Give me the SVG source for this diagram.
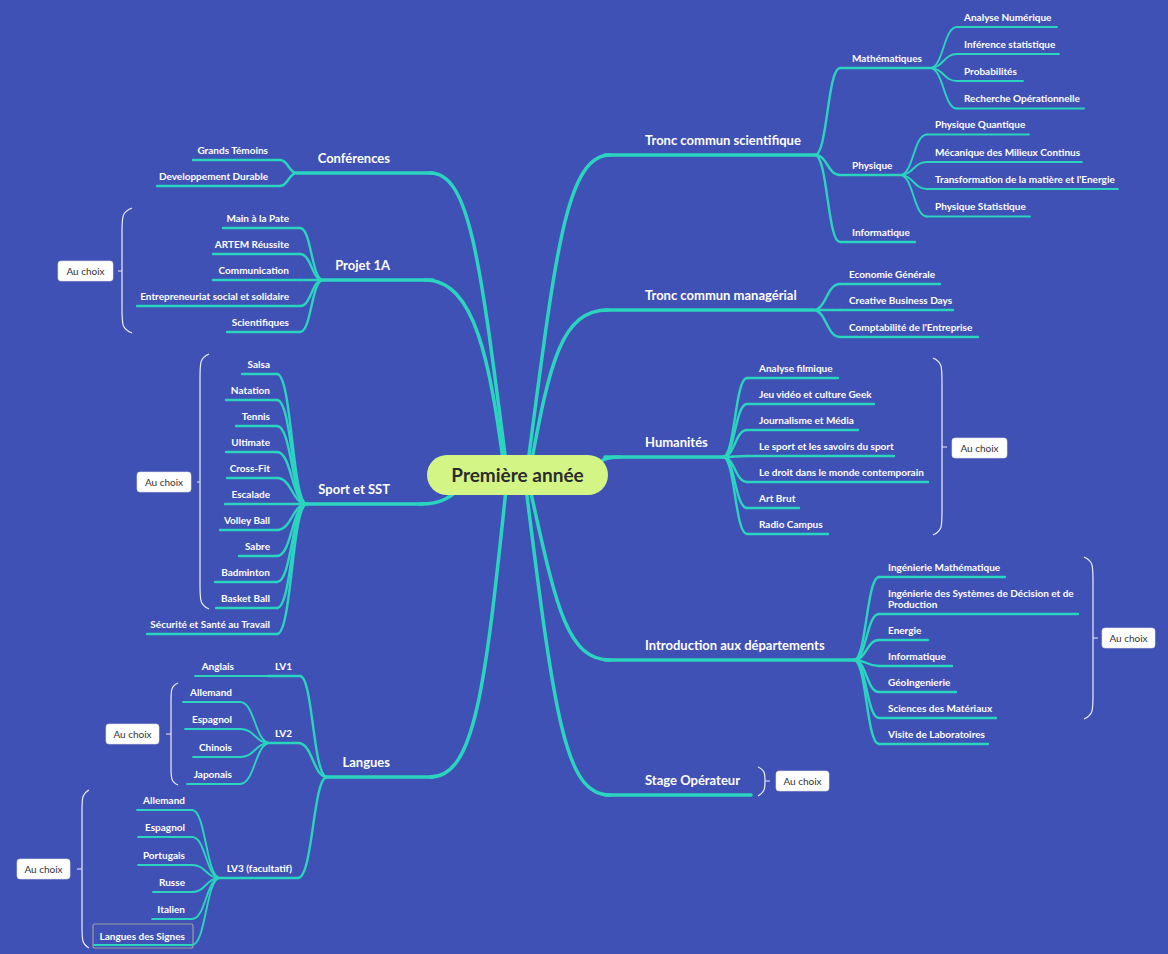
<svg xmlns="http://www.w3.org/2000/svg" width="1168" height="954" viewBox="0 0 1168 954">
<style>
.main{stroke:#2BD4BF;stroke-width:3.5;fill:none;stroke-linecap:round}
.sub{stroke:#2BD4BF;stroke-width:2.4;fill:none;stroke-linecap:round}
.leaf{stroke:#2BD4BF;stroke-width:1.9;fill:none;stroke-linecap:round}
.t1{font-family:Lato,"Liberation Sans",sans-serif;font-weight:bold;font-size:13px;fill:#ffffff}
.t2{font-family:Lato,"Liberation Sans",sans-serif;font-weight:bold;font-size:10px;fill:#ffffff}
.e{text-anchor:end}
.brace{stroke:#ffffff;stroke-width:1.2;fill:none;opacity:0.9}
.box{fill:#ffffff;stroke:#e0e0e0;stroke-width:0.6}
.bt{font-family:Lato,"Liberation Sans",sans-serif;font-size:10px;fill:#333333;text-anchor:middle}
</style>
<rect x="0" y="0" width="1168" height="954" fill="#3F51B5"/>
<g id="connectors">
<!-- main branches -->
<path class="main" d="M527 470 C555 260,565 155,610 155"/>
<path class="main" d="M530 470 C550 360,562 310,608 310"/>
<path class="main" d="M590 472 C600 460,605 457,620 457"/>
<path class="main" d="M528 480 C555 600,565 660,610 660"/>
<path class="main" d="M525 480 C555 720,565 795,610 795"/>
<path class="main" d="M507 470 C480 260,470 173,430 173"/>
<path class="main" d="M505 475 C490 360,475 280,425 280"/>
<path class="main" d="M470 478 C450 500,440 504,420 504"/>
<path class="main" d="M507 480 C485 690,475 777,430 777"/>
<!-- Tronc scientifique -->
<path class="sub" d="M815 155 C827.5 155,827.5 68,840 68"/>
<path class="sub" d="M815 155 C827.5 155,827.5 175,840 175"/>
<path class="sub" d="M815 155 C827.5 155,827.5 242,840 242"/>
<path class="leaf" d="M930 68 C943.5 68,943.5 27,957 27"/>
<path class="leaf" d="M930 68 C943.5 68,943.5 54,957 54"/>
<path class="leaf" d="M930 68 C943.5 68,943.5 81,957 81"/>
<path class="leaf" d="M930 68 C943.5 68,943.5 108.5,957 108.5"/>
<path class="leaf" d="M900 175 C913.5 175,913.5 134.5,927 134.5"/>
<path class="leaf" d="M900 175 C913.5 175,913.5 162,927 162"/>
<path class="leaf" d="M900 175 C913.5 175,913.5 189,927 189"/>
<path class="leaf" d="M900 175 C913.5 175,913.5 216.5,927 216.5"/>
<!-- managerial -->
<path class="sub" d="M813 310 C826.5 310,826.5 284,840 284"/>
<path class="sub" d="M813 310 L840 310"/>
<path class="sub" d="M813 310 C826.5 310,826.5 337,840 337"/>
<!-- Humanites -->
<path class="sub" d="M723 457 C735 457,735 378,747 378"/>
<path class="sub" d="M723 457 C735 457,735 404,747 404"/>
<path class="sub" d="M723 457 C735 457,735 430,747 430"/>
<path class="sub" d="M723 457 C735 457,735 456,747 456"/>
<path class="sub" d="M723 457 C735 457,735 482,747 482"/>
<path class="sub" d="M723 457 C735 457,735 508,747 508"/>
<path class="sub" d="M723 457 C735 457,735 534,747 534"/>
<!-- Introduction -->
<path class="sub" d="M854 660 C866.5 660,866.5 577,879 577"/>
<path class="sub" d="M854 660 C866.5 660,866.5 614,879 614"/>
<path class="sub" d="M854 660 C866.5 660,866.5 640,879 640"/>
<path class="sub" d="M854 660 C866.5 660,866.5 666,879 666"/>
<path class="sub" d="M854 660 C866.5 660,866.5 692,879 692"/>
<path class="sub" d="M854 660 C866.5 660,866.5 718,879 718"/>
<path class="sub" d="M854 660 C866.5 660,866.5 744,879 744"/>
<!-- Conferences -->
<path class="sub" d="M297 173 C288.5 173,288.5 160,280 160"/>
<path class="sub" d="M297 173 C288.5 173,288.5 186,280 186"/>
<!-- Projet 1A -->
<path class="sub" d="M323 280 C311.5 280,311.5 228,300 228"/>
<path class="sub" d="M323 280 C311.5 280,311.5 254,300 254"/>
<path class="sub" d="M323 280 L300 280"/>
<path class="sub" d="M323 280 C311.5 280,311.5 306,300 306"/>
<path class="sub" d="M323 280 C311.5 280,311.5 332,300 332"/>
<!-- Sport -->
<path class="sub" d="M307 504 C292 504,292 374,277 374"/>
<path class="sub" d="M307 504 C292 504,292 400,277 400"/>
<path class="sub" d="M307 504 C292 504,292 426,277 426"/>
<path class="sub" d="M307 504 C292 504,292 452,277 452"/>
<path class="sub" d="M307 504 C292 504,292 478,277 478"/>
<path class="sub" d="M307 504 L277 504"/>
<path class="sub" d="M307 504 C292 504,292 530,277 530"/>
<path class="sub" d="M307 504 C292 504,292 556,277 556"/>
<path class="sub" d="M307 504 C292 504,292 582,277 582"/>
<path class="sub" d="M307 504 C292 504,292 608,277 608"/>
<path class="sub" d="M307 504 C292 504,292 634,277 634"/>
<!-- Langues -->
<path class="sub" d="M327 777 C313 777,313 676,300 676"/>
<path class="sub" d="M327 777 C313 777,313 743,298 743"/>
<path class="sub" d="M327 777 C313 777,313 878,298 878"/>
<path class="leaf" d="M268 676 L262 676"/>
<path class="leaf" d="M270 743 C255 743,255 702,240 702"/>
<path class="leaf" d="M270 743 C255 743,255 729,240 729"/>
<path class="leaf" d="M270 743 C255 743,255 757,240 757"/>
<path class="leaf" d="M270 743 C255 743,255 784,240 784"/>
<path class="leaf" d="M220 878 C206 878,206 810,192 810"/>
<path class="leaf" d="M220 878 C206 878,206 837,192 837"/>
<path class="leaf" d="M220 878 C206 878,206 865,192 865"/>
<path class="leaf" d="M220 878 C206 878,206 892,192 892"/>
<path class="leaf" d="M220 878 C206 878,206 919,192 919"/>
<path class="leaf" d="M220 878 C206 878,206 945,192 945"/>
</g>

<g id="root">
<rect x="427" y="455" width="181" height="40" rx="20" fill="#D3F585"/>
<text x="517.5" y="482" font-family="Lato,'Liberation Sans',sans-serif" font-weight="bold" font-size="19" fill="#2b2b2b" text-anchor="middle">Première année</text>
</g>

<!-- RIGHT SIDE -->
<g id="tronc-sci"><path class="main" d="M605 155 L815 155"/><text class="t1" x="645" y="144.5">Tronc commun scientifique</text></g>
<g id="maths"><path class="sub" d="M840 68 L930 68"/><text class="t2" x="852" y="61.5">Mathématiques</text></g>
<g id="analyse-num"><path class="leaf" d="M957 27 L1057 27"/><text class="t2" x="964" y="20.5">Analyse Numérique</text></g>
<g id="inference"><path class="leaf" d="M957 54 L1059 54"/><text class="t2" x="964" y="47.5">Inférence statistique</text></g>
<g id="probas"><path class="leaf" d="M957 81 L1023 81"/><text class="t2" x="964" y="74.5">Probabilités</text></g>
<g id="recherche-op"><path class="leaf" d="M957 108.5 L1084 108.5"/><text class="t2" x="964" y="102">Recherche Opérationnelle</text></g>
<g id="physique"><path class="sub" d="M840 175 L900 175"/><text class="t2" x="852" y="168.5">Physique</text></g>
<g id="phys-quant"><path class="leaf" d="M927 134.5 L1029 134.5"/><text class="t2" x="935" y="128">Physique Quantique</text></g>
<g id="meca"><path class="leaf" d="M927 162 L1082 162"/><text class="t2" x="935" y="155.5">Mécanique des Milieux Continus</text></g>
<g id="transfo"><path class="leaf" d="M927 189 L1118 189"/><text class="t2" x="935" y="182.5">Transformation de la matière et l'Energie</text></g>
<g id="phys-stat"><path class="leaf" d="M927 216.5 L1030 216.5"/><text class="t2" x="935" y="210">Physique Statistique</text></g>
<g id="info-sci"><path class="sub" d="M840 242 L915 242"/><text class="t2" x="852" y="235.5">Informatique</text></g>

<g id="tronc-man"><path class="main" d="M605 310 L813 310"/><text class="t1" x="645" y="299.5">Tronc commun managérial</text></g>
<g id="eco"><path class="sub" d="M840 284 L940 284"/><text class="t2" x="849" y="277.5">Economie Générale</text></g>
<g id="creative"><path class="sub" d="M840 310 L953 310"/><text class="t2" x="849" y="303.5">Creative Business Days</text></g>
<g id="compta"><path class="sub" d="M840 337 L978 337"/><text class="t2" x="849" y="330.5">Comptabilité de l'Entreprise</text></g>

<g id="humanites"><path class="main" d="M605 457 L723 457"/><text class="t1" x="645" y="446.5">Humanités</text></g>
<g id="h1"><path class="sub" d="M747 378 L838 378"/><text class="t2" x="759" y="371.5">Analyse filmique</text></g>
<g id="h2"><path class="sub" d="M747 404 L874 404"/><text class="t2" x="759" y="397.5">Jeu vidéo et culture Geek</text></g>
<g id="h3"><path class="sub" d="M747 430 L858 430"/><text class="t2" x="759" y="423.5">Journalisme et Média</text></g>
<g id="h4"><path class="sub" d="M747 456 L894 456"/><text class="t2" x="759" y="449.5">Le sport et les savoirs du sport</text></g>
<g id="h5"><path class="sub" d="M747 482 L928 482"/><text class="t2" x="759" y="475.5">Le droit dans le monde contemporain</text></g>
<g id="h6"><path class="sub" d="M747 508 L799 508"/><text class="t2" x="759" y="501.5">Art Brut</text></g>
<g id="h7"><path class="sub" d="M747 534 L828 534"/><text class="t2" x="759" y="527.5">Radio Campus</text></g>
<g id="h-choix"><path class="brace" d="M933 358 C942 362,942 366,942 383 L942 510 C942 527,942 531,933 535 M942 447 L947 447"/><rect class="box" x="952" y="438" width="55" height="20" rx="3"/><text class="bt" x="979.5" y="451.5">Au choix</text></g>

<g id="intro"><path class="main" d="M605 660 L854 660"/><text class="t1" x="645" y="649.5">Introduction aux départements</text></g>
<g id="i1"><path class="sub" d="M879 577 L1005 577"/><text class="t2" x="888" y="570.5">Ingénierie Mathématique</text></g>
<g id="i2"><path class="sub" d="M879 614 L1078 614"/><text class="t2" x="888" y="596.5">Ingénierie des Systèmes de Décision et de</text><text class="t2" x="888" y="607.5">Production</text></g>
<g id="i3"><path class="sub" d="M879 640 L928 640"/><text class="t2" x="888" y="633.5">Energie</text></g>
<g id="i4"><path class="sub" d="M879 666 L952 666"/><text class="t2" x="888" y="659.5">Informatique</text></g>
<g id="i5"><path class="sub" d="M879 692 L956 692"/><text class="t2" x="888" y="685.5">GéoIngenierie</text></g>
<g id="i6"><path class="sub" d="M879 718 L996 718"/><text class="t2" x="888" y="711.5">Sciences des Matériaux</text></g>
<g id="i7"><path class="sub" d="M879 744 L988 744"/><text class="t2" x="888" y="737.5">Visite de Laboratoires</text></g>
<g id="i-choix"><path class="brace" d="M1084 557 C1093 561,1093 565,1093 582 L1093 694 C1093 711,1093 715,1084 719 M1093 638 L1098 638"/><rect class="box" x="1102" y="628" width="53" height="20" rx="3"/><text class="bt" x="1128.5" y="641.5">Au choix</text></g>

<g id="stage"><path class="main" d="M605 795 L751 795"/><text class="t1" x="645" y="784.5">Stage Opérateur</text></g>
<g id="s-choix"><path class="brace" d="M758 767 C765 770,765 774,765 781 C765 788,765 792,758 796 M765 781 L770 781"/><rect class="box" x="776" y="771" width="53" height="20" rx="3"/><text class="bt" x="802.5" y="784.5">Au choix</text></g>

<!-- LEFT SIDE -->
<g id="conferences"><path class="main" d="M297 173 L433 173"/><text class="t1 e" x="390" y="162.5">Conférences</text></g>
<g id="c1"><path class="sub" d="M193 160 L280 160"/><text class="t2 e" x="268" y="153.5">Grands Témoins</text></g>
<g id="c2"><path class="sub" d="M157 186 L280 186"/><text class="t2 e" x="268" y="179.5">Developpement Durable</text></g>

<g id="projet"><path class="main" d="M323 280 L433 280"/><text class="t1 e" x="390" y="269.5">Projet 1A</text></g>
<g id="p1"><path class="sub" d="M223 228 L300 228"/><text class="t2 e" x="289" y="221.5">Main à la Pate</text></g>
<g id="p2"><path class="sub" d="M213 254 L300 254"/><text class="t2 e" x="289" y="247.5">ARTEM Réussite</text></g>
<g id="p3"><path class="sub" d="M213 280 L300 280"/><text class="t2 e" x="289" y="273.5">Communication</text></g>
<g id="p4"><path class="sub" d="M137 306 L300 306"/><text class="t2 e" x="289" y="299.5">Entrepreneuriat social et solidaire</text></g>
<g id="p5"><path class="sub" d="M227 332 L300 332"/><text class="t2 e" x="289" y="325.5">Scientifiques</text></g>
<g id="p-choix"><path class="brace" d="M132 208 C122 212,122 216,122 233 L122 308 C122 325,122 329,132 333 M122 271 L118 271"/><rect class="box" x="58" y="261" width="55" height="20" rx="3"/><text class="bt" x="85.5" y="274.5">Au choix</text></g>

<g id="sport"><path class="main" d="M307 504 L423 504"/><text class="t1 e" x="390" y="493.5">Sport et SST</text></g>
<g id="sp1"><path class="sub" d="M242 374 L277 374"/><text class="t2 e" x="270" y="367.5">Salsa</text></g>
<g id="sp2"><path class="sub" d="M226 400 L277 400"/><text class="t2 e" x="270" y="393.5">Natation</text></g>
<g id="sp3"><path class="sub" d="M236 426 L277 426"/><text class="t2 e" x="270" y="419.5">Tennis</text></g>
<g id="sp4"><path class="sub" d="M226 452 L277 452"/><text class="t2 e" x="270" y="445.5">Ultimate</text></g>
<g id="sp5"><path class="sub" d="M227 478 L277 478"/><text class="t2 e" x="270" y="471.5">Cross-Fit</text></g>
<g id="sp6"><path class="sub" d="M225 504 L277 504"/><text class="t2 e" x="270" y="497.5">Escalade</text></g>
<g id="sp7"><path class="sub" d="M220 530 L277 530"/><text class="t2 e" x="270" y="523.5">Volley Ball</text></g>
<g id="sp8"><path class="sub" d="M239 556 L277 556"/><text class="t2 e" x="270" y="549.5">Sabre</text></g>
<g id="sp9"><path class="sub" d="M215 582 L277 582"/><text class="t2 e" x="270" y="575.5">Badminton</text></g>
<g id="sp10"><path class="sub" d="M216 608 L277 608"/><text class="t2 e" x="270" y="601.5">Basket Ball</text></g>
<g id="sp11"><path class="sub" d="M147 634 L277 634"/><text class="t2 e" x="270" y="627.5">Sécurité et Santé au Travail</text></g>
<g id="sp-choix"><path class="brace" d="M209 354 C200 358,200 362,200 379 L200 584 C200 601,200 605,209 609 M200 482 L197 482"/><rect class="box" x="137" y="472" width="54" height="20" rx="3"/><text class="bt" x="164" y="485.5">Au choix</text></g>

<g id="langues"><path class="main" d="M327 777 L433 777"/><text class="t1 e" x="390" y="766.5">Langues</text></g>
<g id="lv1"><path class="sub" d="M268 676 L300 676"/><text class="t2 e" x="292" y="669.5">LV1</text></g>
<g id="anglais"><path class="leaf" d="M195 676 L262 676"/><text class="t2 e" x="234" y="669.5">Anglais</text></g>
<g id="lv2"><path class="sub" d="M270 743 L298 743"/><text class="t2 e" x="292" y="736.5">LV2</text></g>
<g id="lv2-1"><path class="leaf" d="M183 702 L240 702"/><text class="t2 e" x="232" y="695.5">Allemand</text></g>
<g id="lv2-2"><path class="leaf" d="M185 729 L240 729"/><text class="t2 e" x="232" y="722.5">Espagnol</text></g>
<g id="lv2-3"><path class="leaf" d="M193 757 L240 757"/><text class="t2 e" x="232" y="750.5">Chinois</text></g>
<g id="lv2-4"><path class="leaf" d="M187 784 L240 784"/><text class="t2 e" x="232" y="777.5">Japonais</text></g>
<g id="lv2-choix"><path class="brace" d="M178 683 C171 686,171 690,171 702 L171 766 C171 778,171 782,178 785 M171 734 L166 734"/><rect class="box" x="106" y="724" width="53" height="20" rx="3"/><text class="bt" x="132.5" y="737.5">Au choix</text></g>
<g id="lv3"><path class="sub" d="M220 878 L298 878"/><text class="t2 e" x="292" y="871.5">LV3 (facultatif)</text></g>
<g id="lv3-1"><path class="leaf" d="M137 810 L192 810"/><text class="t2 e" x="185" y="803.5">Allemand</text></g>
<g id="lv3-2"><path class="leaf" d="M138 837 L192 837"/><text class="t2 e" x="185" y="830.5">Espagnol</text></g>
<g id="lv3-3"><path class="leaf" d="M138 865 L192 865"/><text class="t2 e" x="185" y="858.5">Portugais</text></g>
<g id="lv3-4"><path class="leaf" d="M153 892 L192 892"/><text class="t2 e" x="185" y="885.5">Russe</text></g>
<g id="lv3-5"><path class="leaf" d="M152 919 L192 919"/><text class="t2 e" x="185" y="912.5">Italien</text></g>
<g id="lv3-6"><rect x="93" y="924" width="100" height="24" rx="2" fill="none" stroke="#9E9E9E" stroke-width="1.2"/><path class="leaf" d="M94 945 L192 945"/><text class="t2 e" x="185" y="939.5">Langues des Signes</text></g>
<g id="lv3-choix"><path class="brace" d="M89 790 C82 794,82 798,82 812 L82 926 C82 940,82 944,89 948 M82 869 L77 869"/><rect class="box" x="17" y="859" width="53" height="20" rx="3"/><text class="bt" x="43.5" y="872.5">Au choix</text></g>
</svg>
